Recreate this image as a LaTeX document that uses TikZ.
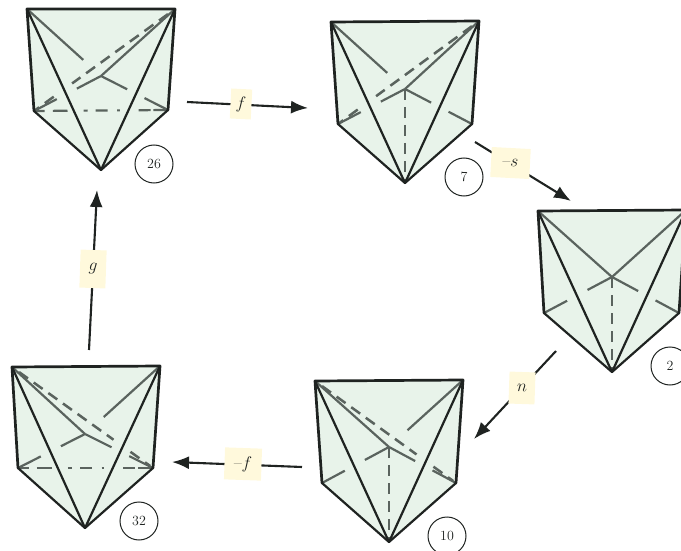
\documentclass[tikz,border=0pt]{standalone}
\usetikzlibrary{calc,arrows.meta}
\definecolor{facefill}{HTML}{E8F3EA}
\definecolor{edgedark}{HTML}{1F2321}
\definecolor{edgegrey}{HTML}{5A635E}
\definecolor{labelbg}{HTML}{FFF9DC}
\tikzset{
  face/.style={fill=facefill,draw=none},
  outer/.style={draw=edgedark,line width=2.2pt,line join=round,line cap=round},
  rim/.style={draw=edgedark,line width=2.7pt,line join=round,line cap=round},
  hid/.style={draw=edgegrey,line width=2.2pt},
  dsh/.style={draw=edgegrey,line width=2.5pt,dash pattern=on 11pt off 7pt},
  flow/.style={draw=edgedark,line width=2.1pt,-{Latex[length=17pt,width=13pt]}},
  lab/.style={fill=labelbg,inner sep=0pt,font=\fontsize{17}{17}\selectfont,text=edgedark},
  tag/.style={circle,draw=edgedark,line width=1pt,minimum size=38pt,inner sep=0pt,font=\fontsize{14}{14}\selectfont,text=edgedark}
}
\newcommand{\setpoly}[6]{%
  \coordinate (TL) at #1;\coordinate (TR) at #2;\coordinate (BL) at #3;
  \coordinate (BR) at #4;\coordinate (BO) at #5;\coordinate (CE) at #6;
  \fill[face] (TL)--(TR)--(BR)--(BO)--(BL)--cycle;}
\newcommand{\outl}{%
  \draw[rim] (BL)--(TL)--(TR)--(BR);
  \draw[outer] (BR)--(BO)--(BL);
  \draw[outer] (TL)--(BO)--(TR);}
\newcommand{\seg}[5][hid]{\draw[#1] ($(#2)!#3!(#4)$)--($(#2)!#5!(#4)$);}
\newcommand{\brokenA}{\seg{TL}{0}{CE}{.76}}
\newcommand{\brokenB}{\seg{TR}{0}{CE}{.75}}
\newcommand{\lowL}{\seg{CE}{0}{BL}{.36}\seg{CE}{.66}{BL}{1}}
\newcommand{\lowR}{\seg{CE}{0}{BR}{.39}\seg{CE}{.65}{BR}{1}}
\newcommand{\basel}{\seg{BL}{.01}{BR}{.08}\seg{BL}{.14}{BR}{.25}\seg{BL}{.37}{BR}{.40}\seg{BL}{.46}{BR}{.55}\seg{BL}{.62}{BR}{.64}\seg{BL}{.78}{BR}{.87}\seg{BL}{.89}{BR}{.99}}
\newcommand{\vertd}{\draw[dsh] (CE)--(BO);}
\newcommand{\diagTR}{\seg[dsh]{TR}{.05}{BL}{.73}\seg[dsh]{TR}{.86}{BL}{1}}
\newcommand{\diagTL}{\seg[dsh]{TL}{.05}{BR}{.72}\seg[dsh]{TL}{.84}{BR}{.98}}
\begin{document}
\begin{tikzpicture}[x=1pt,y=-1pt]
\useasboundingbox (0,0) rectangle (681,551);
\clip (0,0) rectangle (681,551);
% 26
\setpoly{(27,9)}{(175,9)}{(34,111)}{(168,110)}{(101,170)}{(101,76)}
\brokenA \seg{TR}{0}{CE}{1} \lowL \lowR \diagTR \basel \outl
% 7
\setpoly{(331,22)}{(479,21)}{(338,124)}{(472,124)}{(405,183)}{(405,89)}
\brokenA \seg{TR}{0}{CE}{1} \lowL \lowR \diagTR \vertd \outl
% 2
\setpoly{(538,211)}{(686,210)}{(544,313)}{(679,313)}{(612,372)}{(612,277)}
\seg{TL}{0}{CE}{1} \seg{TR}{0}{CE}{1} \lowL \lowR \vertd \outl
% 10
\setpoly{(315,381)}{(463,380)}{(322,483)}{(456,483)}{(389,542)}{(389,447)}
\seg{TL}{0}{CE}{1} \brokenB \lowL \lowR \diagTL \vertd \outl
% 32
\setpoly{(12,367)}{(160,366)}{(18,468)}{(153,468)}{(85,528)}{(85,434)}
\seg{TL}{0}{CE}{1} \brokenB \lowL \lowR \diagTL \basel \outl
% tags
\node[tag] (t26) at (154,164) {26};
\node[tag] (t7) at (464,177) {7};
\node[tag] (t2) at (670,366) {2};
\node[tag] (t10) at (447,536) {10};
\node[tag] (t32) at (139,521) {32};
% arrows
\coordinate (fS) at (187,102); \coordinate (fE) at (308,108);
\coordinate (sS) at (475,142); \coordinate (sE) at (571,201);
\coordinate (nS) at (556,351); \coordinate (nE) at (474,439);
\coordinate (mS) at (302,467); \coordinate (mE) at (172,462);
\coordinate (gS) at (89,350); \coordinate (gE) at (97,190);
\draw[flow] (fS)--(fE);
\draw[flow] (sS)--(sE);
\draw[flow] (nS)--(nE);
\draw[flow] (mS)--(mE);
\draw[flow] (gS)--(gE);
\node[lab,rotate=-3,minimum width=21pt,minimum height=30pt] (lf) at (241,104) {$f$};
\node[lab,rotate=-3,minimum width=39pt,minimum height=30pt] (ls) at (510.5,163) {\textendash$s$};
\node[lab,rotate=-2,minimum width=26pt,minimum height=32pt] (ln) at (522,388) {$n$};
\node[lab,rotate=-2,minimum width=37pt,minimum height=32pt] (lm) at (243,464) {\textendash$f$};
\node[lab,rotate=-2,minimum width=26pt,minimum height=38pt] (lg) at (93,269) {$g$};
\end{tikzpicture}
\end{document}
